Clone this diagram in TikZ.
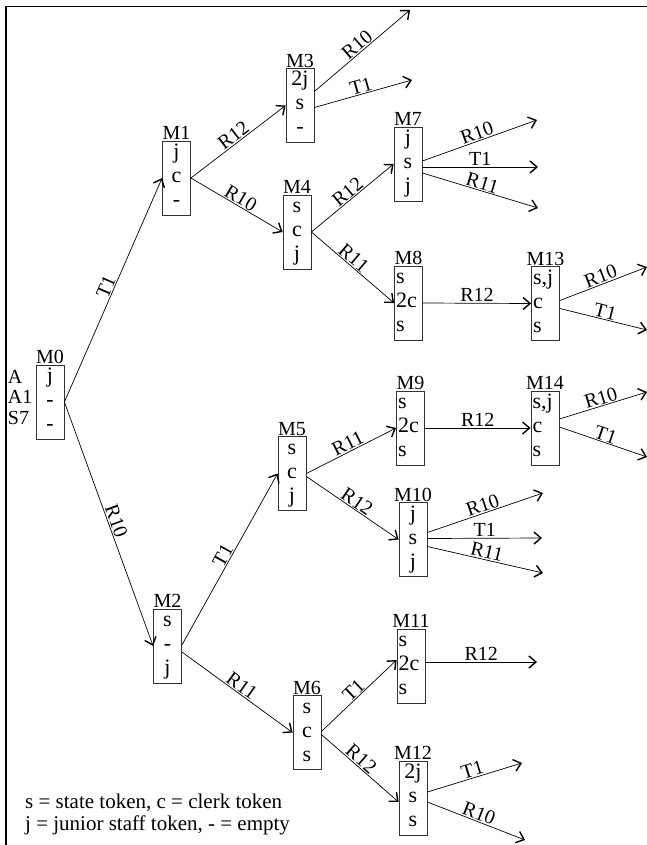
\documentclass[tikz,border=0pt]{standalone}
\usepackage{fontspec}
\setmainfont{Liberation Serif}
\usetikzlibrary{arrows.meta, positioning}

% three token rows of a marking box
\newcommand{\mrow}{\rule[-6pt]{0pt}{21pt}}
\newcommand{\mrows}[3]{\mrow #1\\\mrow #2\\\mrow #3}

\begin{document}
\begin{tikzpicture}[x=1pt, y=-1pt,
    marking/.style={draw=black!80, line width=0.8pt, minimum width=28pt, minimum height=74pt,
        inner sep=0pt, text width=25pt, align=center, font=\fontsize{22}{24}\selectfont},
    mname/.style={inner sep=0.5pt, font=\fontsize{20}{20}\selectfont},
    fire/.style={line width=0.7pt, -{Straight Barb[length=7pt, width=12pt, line width=1.4pt]}},
    lbl/.style={sloped, above, inner sep=1pt, font=\fontsize{20}{20}\selectfont}]
    \useasboundingbox (0,0) rectangle (647,845);

    % frame
    \draw[line width=1.5pt] (647,6.5) -- (6,6.5) -- (6,845);

    % markings
    \node[marking, label={[mname]above:M0}] (M0) at (50,402) {\mrows{j}{-}{-}};
    \node[align=left, inner sep=0pt, font=\fontsize{20}{20.5}\selectfont, left=3pt of M0, yshift=5pt] (m0tag) {A\\A1\\S7};
    \node[marking, label={[mname]above:M1}] (M1) at (176.5,178) {\mrows{j}{c}{-}};
    \node[marking, label={[mname]above:M2}] (M2) at (167.5,646) {\mrows{s}{-}{j}};
    \node[marking, label={[mname]above:M3}] (M3) at (300,105.5) {\mrows{2j}{s}{-}};
    \node[marking, label={[mname]above:M4}] (M4) at (297,232) {\mrows{s}{c}{j}};
    \node[marking, label={[mname]above:M5}] (M5) at (292,473.5) {\mrows{s}{c}{j}};
    \node[marking, label={[mname]above:M6}] (M6) at (307,732.5) {\mrows{s}{c}{s}};
    \node[marking, label={[mname]above:M7}] (M7) at (408,164) {\mrows{j}{s}{j}};
    \node[marking, align=left, label={[mname]above:M8}] (M8) at (408.5,303) {\mrows{s}{2c}{s}};
    \node[marking, align=left, label={[mname]above:M9}] (M9) at (410.5,428) {\mrows{s}{2c}{s}};
    \node[marking, label={[mname]above:M10}] (M10) at (413,539.5) {\mrows{j}{s}{j}};
    \node[marking, align=left, label={[mname]above:M11}] (M11) at (411,666) {\mrows{s}{2c}{s}};
    \node[marking, label={[mname]above:M12}] (M12) at (413,798) {\mrows{2j}{s}{s}};
    \node[marking, align=left, label={[mname]above:M13}] (M13) at (545.5,303.5) {\mrows{s,j}{c}{s}};
    \node[marking, align=left, label={[mname]above:M14}] (M14) at (545,428) {\mrows{s,j}{c}{s}};

    % open ends
    \coordinate (e3a) at (410,10);
    \coordinate (e3b) at (412,80);
    \coordinate (e7a) at (537,120);
    \coordinate (e7b) at (538,167);
    \coordinate (e7c) at (538,208);
    \coordinate (e13a) at (647,267);
    \coordinate (e13b) at (647,330);
    \coordinate (e14a) at (647,392);
    \coordinate (e14b) at (647,457);
    \coordinate (e10a) at (543,493);
    \coordinate (e10b) at (542,538);
    \coordinate (e10c) at (543,573);
    \coordinate (e11) at (537,662);
    \coordinate (e12a) at (522,763);
    \coordinate (e12b) at (525,840);

    % firings
    \draw[fire] (M0.east) -- node[lbl]{T1} (M1.west);
    \draw[fire] (M0.east) -- node[lbl]{R10} (M2.west);
    \draw[fire] (M1.east) -- node[lbl]{R12} (M3.west);
    \draw[fire] (M1.east) -- node[lbl]{R10} (M4.west);
    \draw[fire] ([yshift=14pt]M3.east) -- node[lbl]{R10} (e3a);
    \draw[fire] ([yshift=-2pt]M3.east) -- node[lbl]{T1} (e3b);
    \draw[fire] (M4.east) -- node[lbl]{R12} (M7.west);
    \draw[fire] (M4.east) -- node[lbl, pos=0.45]{R11} (M8.west);
    \draw[fire] ([yshift=3pt]M7.east) -- node[lbl]{R10} (e7a);
    \draw[fire] ([yshift=-3pt]M7.east) -- node[lbl]{T1} (e7b);
    \draw[fire] ([yshift=-9pt]M7.east) -- node[lbl]{R11} (e7c);
    \draw[fire] (M8.east) -- node[lbl]{R12} (M13.west);
    \draw[fire] ([yshift=3pt]M13.east) -- node[lbl]{R10} (e13a);
    \draw[fire] ([yshift=-5pt]M13.east) -- node[lbl]{T1} (e13b);
    \draw[fire] ([yshift=1pt]M2.east) -- node[lbl]{T1} (M5.west);
    \draw[fire] ([yshift=-6pt]M2.east) -- node[lbl]{R11} (M6.west);
    \draw[fire] (M5.east) -- node[lbl]{R11} (M9.west);
    \draw[fire] ([yshift=-3pt]M5.east) -- node[lbl]{R12} (M10.west);
    \draw[fire] (M9.east) -- node[lbl]{R12} (M14.west);
    \draw[fire] ([yshift=9pt]M14.east) -- node[lbl]{R10} (e14a);
    \draw[fire] ([yshift=1pt]M14.east) -- node[lbl]{T1} (e14b);
    \draw[fire] ([yshift=7pt]M10.east) -- node[lbl]{R10} (e10a);
    \draw[fire] ([yshift=1pt]M10.east) -- node[lbl]{T1} (e10b);
    \draw[fire] ([yshift=-7pt]M10.east) -- node[lbl]{R11} (e10c);
    \draw[fire] ([yshift=1pt]M6.east) -- node[lbl]{T1} ([yshift=6pt]M11.west);
    \draw[fire] ([yshift=-2pt]M6.east) -- node[lbl, pos=0.45]{R12} ([yshift=-4pt]M12.west);
    \draw[fire] ([yshift=4pt]M11.east) -- node[lbl]{R12} (e11);
    \draw[fire] ([yshift=6pt]M12.east) -- node[lbl]{T1} (e12a);
    \draw[fire] ([yshift=-4pt]M12.east) -- node[lbl]{R10} (e12b);

    % legend
    \node[anchor=west, align=left, inner sep=0pt, font=\fontsize{21}{22}\selectfont] (legend) at (25,814)
        {s = state token, c = clerk token\\j = junior staff token, - = empty};
\end{tikzpicture}
\end{document}
